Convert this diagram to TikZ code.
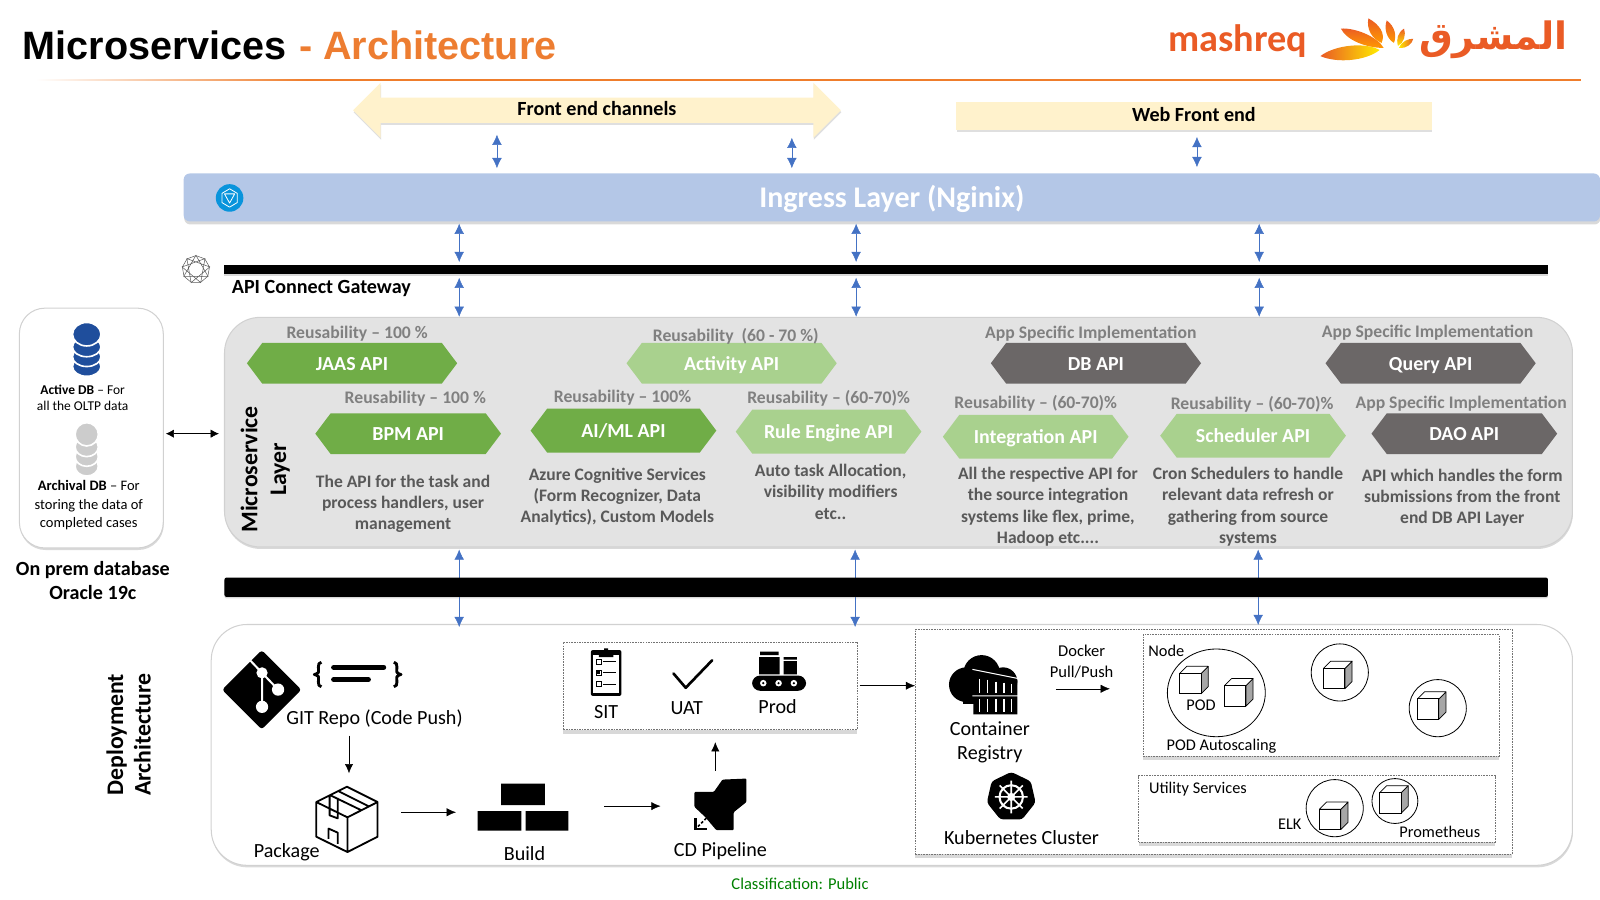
\documentclass[tikz,border=0pt]{standalone}
\usepackage{fontspec}
\setmainfont{Carlito}
\newfontfamily\titlefont{Liberation Sans}
\newfontfamily\arabicfont[Script=Arabic]{DejaVu Sans}
\TeXXeTstate=1
\usetikzlibrary{arrows.meta,shadows,shapes.arrows,shapes.symbols,shapes.geometric}

\definecolor{MidGreen}{HTML}{70AD47}
\definecolor{PaleGreen}{HTML}{A9D18E}
\definecolor{DarkSlate}{HTML}{6B6767}
\definecolor{Cream}{HTML}{FFF2CC}
\definecolor{Ingress}{HTML}{B4C7E7}
\definecolor{BusBlue}{HTML}{4472C4}
\definecolor{Accent}{HTML}{ED7D31}
\definecolor{LogoRed}{HTML}{EA5B25}
\definecolor{DbBlue}{HTML}{1F4E9C}

\newcommand{\dbstack}[5]{
  \filldraw [fill=#5, draw=white, line width=1.6pt, shift={(#1,#2)}, xscale=#3, yscale=#4] (0,20) ellipse (15 and 10);
  \filldraw [fill=#5, draw=white, line width=1.6pt, shift={(#1,#2)}, xscale=#3, yscale=#4] (0,10) ellipse (15 and 10);
  \filldraw [fill=#5, draw=white, line width=1.6pt, shift={(#1,#2)}, xscale=#3, yscale=#4] (0,0) ellipse (15 and 10);
  \filldraw [fill=#5, draw=white, line width=1.6pt, shift={(#1,#2)}, xscale=#3, yscale=#4] (0,-13) ellipse (15 and 12);
}
\newcommand{\cubeicon}[2]{
  \filldraw [fill=black!35, draw=black, line width=0.7pt, line join=round]
    (#1+21,#2+7) -- (#1+28,#2) -- (#1+28,#2+20) -- (#1+21,#2+27) -- cycle;
  \filldraw [fill=white, draw=black, line width=0.7pt, line join=round]
    (#1,#2+7) -- (#1+7,#2) -- (#1+28,#2) -- (#1+21,#2+7) -- cycle;
  \filldraw [fill=white, draw=black, line width=1pt] (#1,#2+7) rectangle (#1+21,#2+27);
}

\begin{document}
\begin{tikzpicture}[x=1pt,y=-1pt]

      \tikzstyle{ApiBlock} = [
      signal,
      signal to=east and west,
      signal pointer angle=106,
      minimum width=182pt,
      minimum height=40pt,
      inner sep=0pt,
      text=white,
      text height=14pt,
      text depth=0pt,
      font=\fontsize{19.5}{22}\selectfont\bfseries
      ]
      \tikzstyle{ReuseText} = [
      text=black!50,
      inner sep=0pt,
      font=\fontsize{17.3}{20}\selectfont\bfseries
      ]
      \tikzstyle{DescText} = [
      text=black!65,
      inner sep=0pt,
      align=center,
      font=\fontsize{17.2}{20.8}\selectfont\bfseries
      ]
      \tikzstyle{Plain} = [
      inner sep=0pt,
      align=center,
      font=\fontsize{19.7}{24}\selectfont
      ]
      \tikzstyle{Small} = [
      inner sep=0pt,
      align=center,
      font=\fontsize{16}{20}\selectfont
      ]
      \tikzstyle{Heading} = [
      inner sep=0pt,
      align=center,
      font=\fontsize{19.7}{23}\selectfont\bfseries
      ]
      \tikzstyle{PanelBox} = [
      rectangle,
      inner sep=0pt,
      draw=black!18,
      line width=1pt,
      drop shadow={opacity=0.3, shadow xshift=0.5pt, shadow yshift=-2pt}
      ]
      \tikzstyle{DashBox} = [
      rectangle,
      inner sep=0pt,
      fill=white,
      draw=black!55,
      line width=0.6pt,
      dash pattern=on 1.6pt off 1pt,
      drop shadow={opacity=0.3, shadow xshift=0pt, shadow yshift=-4pt}
      ]
      \tikzstyle{IconBox} = [
      rectangle,
      inner sep=0pt
      ]
      \tikzstyle{BusArrow} = [
      <->,
      >={Latex[length=10pt,width=9.5pt]},
      draw=BusBlue,
      line width=0.5pt
      ]
      \tikzstyle{FlowArrow} = [
      ->,
      >={Latex[length=9pt,width=8pt]},
      draw=black,
      line width=0.5pt
      ]

      \useasboundingbox (0,0) rectangle (1568,882);

      \node (TitleLeft) [inner sep=0pt, anchor=base west, font=\fontsize{38.8}{42}\selectfont\titlefont\bfseries] at (22,58) {Microservices};
      \node (TitleRight) [inner sep=0pt, anchor=base west, text=Accent, font=\fontsize{38.8}{42}\selectfont\titlefont\bfseries] at (293,58) {- Architecture};
      \shade [left color=white, right color=Accent!90!orange] (35,77.7) rectangle (300,78.9);
      \fill [Accent!90!orange] (300,77.7) rectangle (1549,78.9);

      \node (LogoLatin) [inner sep=0pt, anchor=base west, text=LogoRed, font=\fontsize{37.5}{40}\selectfont\bfseries] at (1145,50) {mashreq};
      \node (LogoArabic) [inner sep=0pt, anchor=base east, text=LogoRed, font=\fontsize{37}{40}\selectfont\arabicfont\bfseries] at (1536,49) {\beginR المشرق\endR};
      \shade [left color=LogoRed, right color=yellow!85!orange] (1294,55) .. controls (1308,44) and (1338,41) .. (1352,49) .. controls (1338,60) and (1310,62) .. (1294,55);
      \shade [top color=LogoRed, bottom color=orange!80!yellow] (1314,28) .. controls (1328,27) and (1350,36) .. (1356,47) .. controls (1340,47) and (1320,40) .. (1314,28);
      \shade [top color=LogoRed, bottom color=orange!80!yellow] (1341,18) .. controls (1352,24) and (1358,33) .. (1354,42) .. controls (1344,38) and (1339,28) .. (1341,18);
      \shade [top color=LogoRed, bottom color=orange!80!yellow] (1359,20) .. controls (1367,26) and (1369,35) .. (1366,42) .. controls (1359,38) and (1356,28) .. (1359,20);
      \shade [top color=LogoRed, bottom color=yellow!85!orange] (1376,28) .. controls (1378,34) and (1376,42) .. (1370,45) .. controls (1368,38) and (1370,32) .. (1376,28);
      \shade [left color=yellow!85!orange, right color=LogoRed] (1371,47) .. controls (1374,40) and (1380,38) .. (1385,38) .. controls (1384,43) and (1378,48) .. (1371,47);

      \node (Channels) [double arrow, double arrow head extend=12pt, double arrow head indent=0pt, minimum height=478pt, minimum width=54pt, inner sep=2pt, fill=Cream, drop shadow={opacity=0.25, shadow xshift=0.5pt, shadow yshift=-2pt}, text height=13pt, text depth=3pt, font=\fontsize{19.7}{22}\selectfont\bfseries] at (585,108) {Front end channels};
      \node (WebFront) [IconBox, minimum width=466pt, minimum height=27pt, fill=Cream, drop shadow={opacity=0.25, shadow xshift=0.5pt, shadow yshift=-2pt}, text height=13pt, text depth=1pt, font=\fontsize{19.7}{22}\selectfont\bfseries] at (1170,113.5) {Web Front end};

      \node (IngressLayer) [rectangle, rounded corners=6pt, minimum width=1388pt, minimum height=47pt, inner sep=0pt, fill=Ingress, text=white, drop shadow={opacity=0.3, shadow xshift=0.5pt, shadow yshift=-3pt}, text height=24pt, text depth=4pt, font=\fontsize{29.4}{32}\selectfont\bfseries] at (874,193.5) {Ingress Layer (Nginix)};
      \node (IngressIcon) [circle, minimum size=27pt, inner sep=0pt, fill=cyan!80!blue] at (225,194) {};
      \draw [white, line width=0.8pt, line join=round] (225,185) -- (232.5,189.5) -- (232.5,198.5) -- (225,203) -- (217.5,198.5) -- (217.5,189.5) -- cycle;
      \draw [white, line width=0.8pt, line join=round] (220,190) -- (230,190) -- (225,199) -- cycle;

      \node (GatewayBar) [IconBox, minimum width=1297pt, minimum height=9pt, fill=black, drop shadow={opacity=0.3, shadow xshift=0pt, shadow yshift=-1pt}] at (868.5,264.5) {};
      \node (GatewayIcon) [regular polygon, regular polygon sides=9, minimum size=27pt, inner sep=0pt, draw=black!65, line width=0.5pt] at (192,264) {};
      \draw [black!65, line width=0.5pt] (GatewayIcon.corner 1) -- (GatewayIcon.corner 4) -- (GatewayIcon.corner 7) -- cycle (GatewayIcon.corner 2) -- (GatewayIcon.corner 5) -- (GatewayIcon.corner 8) -- cycle (GatewayIcon.corner 3) -- (GatewayIcon.corner 6) -- (GatewayIcon.corner 9) -- cycle;
      \node (GatewayLabel) [inner sep=0pt, anchor=west, font=\fontsize{19.7}{22}\selectfont\bfseries] at (227,283) {API Connect Gateway};

      \node (DbPanel) [PanelBox, rounded corners=25pt, minimum width=141pt, minimum height=235pt, fill=white] at (89.5,419.5) {};
      \dbstack{85}{340}{0.93}{0.96}{DbBlue}
      \dbstack{85}{438}{0.76}{0.95}{black!20}
      \node (ActiveText) [inner sep=0pt, align=center, font=\fontsize{13.2}{16}\selectfont] at (81,390) {\textbf{Active DB} – For\\all the OLTP data};
      \node (ArchivalText) [inner sep=0pt, align=center, font=\fontsize{14.2}{17.7}\selectfont] at (87,495) {\textbf{Archival DB} – For\\storing the data of\\completed cases};
      \node (OnPremText) [Heading] at (91,569) {On prem database\\Oracle 19c};

      \node (MicroPanel) [PanelBox, rounded corners=35pt, minimum width=1321pt, minimum height=225pt, fill=black!11] at (880.5,423.5) {};
      \node (MicroLabel) [inner sep=0pt, align=center, rotate=90, font=\fontsize{23.3}{28}\selectfont\bfseries] at (260,460) {Microservice\\Layer};

      \node (JaasApi) [ApiBlock, minimum width=206pt, fill=MidGreen] at (345,356) {JAAS API};
      \node (ActivityApi) [ApiBlock, minimum width=206pt, fill=PaleGreen] at (717,356) {Activity API};
      \node (DbApi) [ApiBlock, minimum width=206pt, fill=DarkSlate] at (1074,356) {DB API};
      \node (QueryApi) [ApiBlock, minimum width=206pt, fill=DarkSlate] at (1402,356) {Query API};
      \node (BpmApi) [ApiBlock, fill=MidGreen] at (400,425) {BPM API};
      \node (AimlApi) [ApiBlock, minimum height=43pt, fill=MidGreen] at (611,422) {AI/ML API};
      \node (RuleApi) [ApiBlock, minimum height=43pt, fill=PaleGreen] at (812,423) {Rule Engine API};
      \node (IntegrationApi) [ApiBlock, minimum height=43pt, fill=PaleGreen] at (1015,428) {Integration API};
      \node (SchedulerApi) [ApiBlock, minimum height=43pt, fill=PaleGreen] at (1228,427) {Scheduler API};
      \node (DaoApi) [ApiBlock, fill=DarkSlate] at (1435,425) {DAO API};

      \node (JaasReuse) [ReuseText] at (350,327) {Reusability – 100 \%};
      \node (ActivityReuse) [ReuseText] at (721,330) {Reusability\ \ (60 - 70 \%)};
      \node (DbReuse) [ReuseText] at (1069,327) {App Specific Implementation};
      \node (QueryReuse) [ReuseText] at (1399,326) {App Specific Implementation};
      \node (BpmReuse) [ReuseText] at (407,391) {Reusability – 100 \%};
      \node (AimlReuse) [ReuseText] at (610,389.5) {Reusability – 100\%};
      \node (RuleReuse) [ReuseText] at (812,390) {Reusability – (60-70)\%};
      \node (IntegrationReuse) [ReuseText] at (1015,395) {Reusability – (60-70)\%};
      \node (SchedulerReuse) [ReuseText] at (1227,396) {Reusability – (60-70)\%};
      \node (DaoReuse) [ReuseText] at (1432,396) {App Specific Implementation};

      \node (BpmDesc) [DescText] at (395,493.5) {The API for the task and\\process handlers, user\\management};
      \node (AimlDesc) [DescText] at (605,487) {Azure Cognitive Services\\(Form Recognizer, Data\\Analytics), Custom Models};
      \node (RuleDesc) [DescText] at (814,482) {Auto task Allocation,\\visibility modifiers\\etc..};
      \node (IntegrationDesc) [DescText] at (1027,496.5) {All the respective API for\\the source integration\\systems like flex, prime,\\Hadoop etc....};
      \node (SchedulerDesc) [DescText] at (1223,496.5) {Cron Schedulers to handle\\relevant data refresh or\\gathering from source\\systems};
      \node (DaoDesc) [DescText] at (1433,488) {API which handles the form\\submissions from the front\\end DB API Layer};

      \node (DeployPanel) [PanelBox, rounded corners=35pt, minimum width=1334pt, minimum height=236pt, fill=white] at (874,730) {};
      \node (DeployLabel) [inner sep=0pt, align=center, rotate=90, font=\fontsize{23.3}{27}\selectfont\bfseries] at (126,720) {Deployment\\Architecture};

      \draw [BusArrow] ([xshift=-98pt,yshift=-24pt]Channels.center) -- ([xshift=-387pt,yshift=5pt]IngressLayer.north);
      \draw [BusArrow] ([xshift=191pt,yshift=-27pt]Channels.center) -- ([xshift=-98pt,yshift=5pt]IngressLayer.north);
      \draw [BusArrow] ([xshift=3pt,yshift=-7pt]WebFront.south) -- ([xshift=299pt,yshift=6pt]IngressLayer.north);
      \draw [BusArrow] ([xshift=-424pt,yshift=-2pt]IngressLayer.south) -- ([xshift=-418.5pt,yshift=3pt]GatewayBar.north);
      \draw [BusArrow] ([xshift=-35pt,yshift=-2pt]IngressLayer.south) -- ([xshift=-29.5pt,yshift=3pt]GatewayBar.north);
      \draw [BusArrow] ([xshift=360pt,yshift=-2pt]IngressLayer.south) -- ([xshift=365.5pt,yshift=3pt]GatewayBar.north);
      \draw [BusArrow] ([xshift=-418.5pt,yshift=-3pt]GatewayBar.south) -- ([xshift=-430.5pt]MicroPanel.north);
      \draw [BusArrow] ([xshift=-29.5pt,yshift=-3pt]GatewayBar.south) -- ([xshift=-41.5pt]MicroPanel.north);
      \draw [BusArrow] ([xshift=365.5pt,yshift=-3pt]GatewayBar.south) -- ([xshift=353.5pt]MicroPanel.north);
      \draw [BusArrow] ([xshift=-430.5pt,yshift=-2pt]MicroPanel.south) -- ([xshift=-424pt,yshift=-3pt]DeployPanel.north);
      \draw [BusArrow] ([xshift=-42.5pt,yshift=-2pt]MicroPanel.south) -- ([xshift=-36pt,yshift=-3pt]DeployPanel.north);
      \draw [BusArrow] ([xshift=352.5pt,yshift=-2pt]MicroPanel.south) -- ([xshift=359pt,yshift=-1pt]DeployPanel.north);
      \draw [<->, >={Latex[length=8pt,width=8pt]}, line width=0.5pt] ([xshift=2pt,yshift=-5.5pt]DbPanel.east) -- ([xshift=-5pt,yshift=-1.5pt]MicroPanel.west);

      \node (LowerBar) [IconBox, rounded corners=2pt, minimum width=1297pt, minimum height=19pt, fill=black, drop shadow={opacity=0.3, shadow xshift=0pt, shadow yshift=-1.5pt}] at (868.5,575.5) {};

      \node (GitIcon) [IconBox, rounded corners=3pt, minimum size=55pt, rotate=45, fill=black] at (256.5,676) {};
      \draw [white, line width=2pt] (245,647) -- (256.8,659.4) -- (256.8,692.7) (256.8,659.4) -- (272.5,675.8);
      \fill [white] (256.8,659.4) circle (5.5) (256.8,692.7) circle (6) (272.5,675.8) circle (6);
      \draw [black, line width=2.8pt, line join=round] (315,649) .. controls (310,649) and (313,658) .. (312,659) .. controls (311,660) and (309,661) .. (308,661) .. controls (309,661) and (311,662) .. (312,663) .. controls (313,664) and (310,673) .. (315,673);
      \draw [black, line width=2.8pt, line join=round] (386,649) .. controls (391,649) and (388,658) .. (389,659) .. controls (390,660) and (392,661) .. (393,661) .. controls (392,661) and (390,662) .. (389,663) .. controls (388,664) and (391,673) .. (386,673);
      \draw [black, line width=5pt, line cap=round] (327,654) -- (376,654) (327,666) -- (361,666);
      \node (GitLabel) [Plain] at (367,704) {GIT Repo (Code Push)};

      \node (PackageIcon) [IconBox, minimum width=62pt, minimum height=64pt] at (340,803) {};
      \draw [black, line width=1.8pt, line join=round] (340,771) -- (370,786) -- (370,820) -- (340.5,835) -- (310,820) -- (310,786) -- cycle (310,786) -- (340.5,801) -- (370,786) (340.5,801) -- (340.5,835) (323,779) -- (354,794) -- (354,794) (331,775) -- (361,790) (323,779) -- (323,799) -- (331,802) -- (331,782) (322,822) -- (322,812) -- (331,816) -- (331,827);
      \node (PackageLabel) [Plain] at (281,835) {Package};

      \node (BuildIcon) [IconBox, minimum width=89pt, minimum height=46pt] at (512.5,791.5) {};
      \fill [black] (491,768) rectangle (534,789) (468,795) rectangle (511,814) (515,795) rectangle (557,814);
      \node (BuildLabel) [Plain] at (514,836.5) {Build};

      \node (CdIcon) [IconBox, minimum width=51pt, minimum height=51pt] at (706,788) {};
      \fill [black, rounded corners=1pt] (680.5,776) -- (699.6,776) -- (708,764) -- (731.5,763) -- (731.5,786) -- (719,796) -- (719,813.6) -- (702,813.6) -- (691,800.6) -- (680.5,790.7) -- cycle;
      \draw [black, line width=2.4pt] (681.5,802) -- (681.5,812.6) -- (693,812.6);
      \draw [black, line width=1.6pt, dash pattern=on 2.5pt off 2pt] (684,810) -- (693,801);
      \node (CdLabel) [Plain] at (706,834.5) {CD Pipeline};

      \node (EnvBox) [DashBox, minimum width=288pt, minimum height=86pt] at (696,672) {};
      \fill [black, rounded corners=2pt] (579,637) rectangle (609,682);
      \fill [white] (581.5,642) rectangle (606.5,679);
      \fill [black] (587,640) rectangle (601,644) (592,635.5) rectangle (596,640);
      \draw [black, line width=0.7pt] (584,646.5) rectangle (589,651.5) (584,656.5) rectangle (589,661.5) (584,668) rectangle (589,673);
      \draw [black, line width=1.2pt] (591,648) -- (604,648) (591,659) -- (604,659) (591,671) -- (604,671);
      \fill [black] (585,657.5) rectangle (588,660.5);
      \node (SitLabel) [Plain] at (594,697.5) {SIT};
      \draw [black, line width=2.6pt, line join=round, line cap=round] (660,660) -- (672,674) -- (698,647);
      \node (UatLabel) [Plain] at (673,693.5) {UAT};
      \fill [black] (744,644) rectangle (764,661) (745,638.5) rectangle (763,642) (768,648) rectangle (781,661) (768,644) rectangle (781,646.5);
      \fill [black, rounded corners=8pt] (737,662) rectangle (790,677);
      \fill [white] (748,669.5) circle (3.2) (763,669.5) circle (3.2) (778,669.5) circle (3.2);
      \fill [black] (748,669.5) circle (1.2) (763,669.5) circle (1.2) (778,669.5) circle (1.2);
      \node (ProdLabel) [Plain] at (762,692.5) {Prod};

      \draw [FlowArrow] ([xshift=-25pt,yshift=-8pt]GitLabel.south) -- ([xshift=2pt,yshift=13pt]PackageIcon.north);
      \draw [FlowArrow] ([xshift=22pt,yshift=7pt]PackageIcon.east) -- ([xshift=-21pt,yshift=-4.5pt]BuildIcon.west);
      \draw [FlowArrow] ([xshift=35pt,yshift=1.5pt]BuildIcon.east) -- ([xshift=-33pt,yshift=-2pt]CdIcon.west);
      \draw [FlowArrow] ([xshift=-5pt,yshift=7pt]CdIcon.north) -- ([xshift=5pt,yshift=-12pt]EnvBox.south);

      \node (ClusterBox) [DashBox, minimum width=585pt, minimum height=220pt] at (1189.5,727) {};
      \draw [FlowArrow] ([xshift=2pt]EnvBox.east) -- ([yshift=55pt]ClusterBox.west);

      \node (RegistryIcon) [IconBox, minimum width=67pt, minimum height=58pt] at (964,671) {};
      \fill [black] (947,671) circle (17) (962,660) circle (18) (983,668) circle (14);
      \fill [black] (944,676) rectangle (996,690);
      \fill [black] (954,657) -- (997,666) -- (997,700) -- (954,700) -- cycle;
      \draw [white, line width=1pt] (953,656) -- (998,665) (953,682) -- (998,682);
      \draw [white, line width=1.2pt] (960,665) -- (960,679) (968,666) -- (968,679) (976,668) -- (976,679) (984,669) -- (984,679) (991,670) -- (991,679) (960,685) -- (960,698) (968,685) -- (968,698) (976,685) -- (976,698) (984,685) -- (984,698) (991,685) -- (991,698);
      \node (RegistryLabel) [Plain] at (970,727.5) {Container\\Registry};
      \node (DockerLabel) [inner sep=0pt, align=center, font=\fontsize{16.2}{20}\selectfont] at (1060,648.5) {Docker\\Pull/Push};

      \node (HelmIcon) [regular polygon, regular polygon sides=7, minimum size=49pt, inner sep=0pt, fill=black, rounded corners=3pt] at (991,781) {};
      \draw [white, line width=2pt] (991,781) circle (11.5);
      \draw [white, line width=1.5pt] (991,765) -- (991,797) (975,781) -- (1007,781) (979.7,769.7) -- (1002.3,792.3) (979.7,792.3) -- (1002.3,769.7);
      \fill [white] (991,781) circle (4);
      \node (ClusterLabel) [Plain] at (1001,821) {Kubernetes Cluster};

      \node (NodeBox) [DashBox, minimum width=349pt, minimum height=119pt] at (1294.5,681.5) {};
      \draw [FlowArrow] ([xshift=37pt,yshift=-4pt]RegistryIcon.east) -- ([xshift=-32pt,yshift=6.5pt]NodeBox.west);
      \node (NodeLabel) [Small] at (1143,637.5) {Node};
      \draw [line width=0.8pt] (1192,679) ellipse (48 and 43);
      \cubeicon{1156}{653}
      \cubeicon{1200}{665}
      \node (PodLabel) [Small] at (1177,691.5) {POD};
      \node (AutoLabel) [Small] at (1197,731) {POD Autoscaling};
      \draw [line width=0.8pt] (1313,659) circle (28);
      \cubeicon{1297}{648}
      \draw [line width=0.8pt] (1409,694) circle (28);
      \cubeicon{1389}{678}

      \node (UtilityBox) [DashBox, minimum width=349pt, minimum height=65pt] at (1290.5,792.5) {};
      \node (UtilityLabel) [Small] at (1174,773) {Utility Services};
      \draw [line width=0.8pt] (1308,792) ellipse (28 and 28);
      \cubeicon{1293}{786}
      \draw [line width=0.8pt] (1367,785) ellipse (22.5 and 22);
      \cubeicon{1352}{770}
      \node (ElkLabel) [Small] at (1264,807.5) {ELK};
      \node (PromLabel) [Small] at (1411,815.5) {Prometheus};

      \node (ClassLabel) [inner sep=0pt, text=green!50!black, font=\fontsize{16.2}{18}\selectfont] at (784,866) {Classification: Public};

\end{tikzpicture}
\end{document}
